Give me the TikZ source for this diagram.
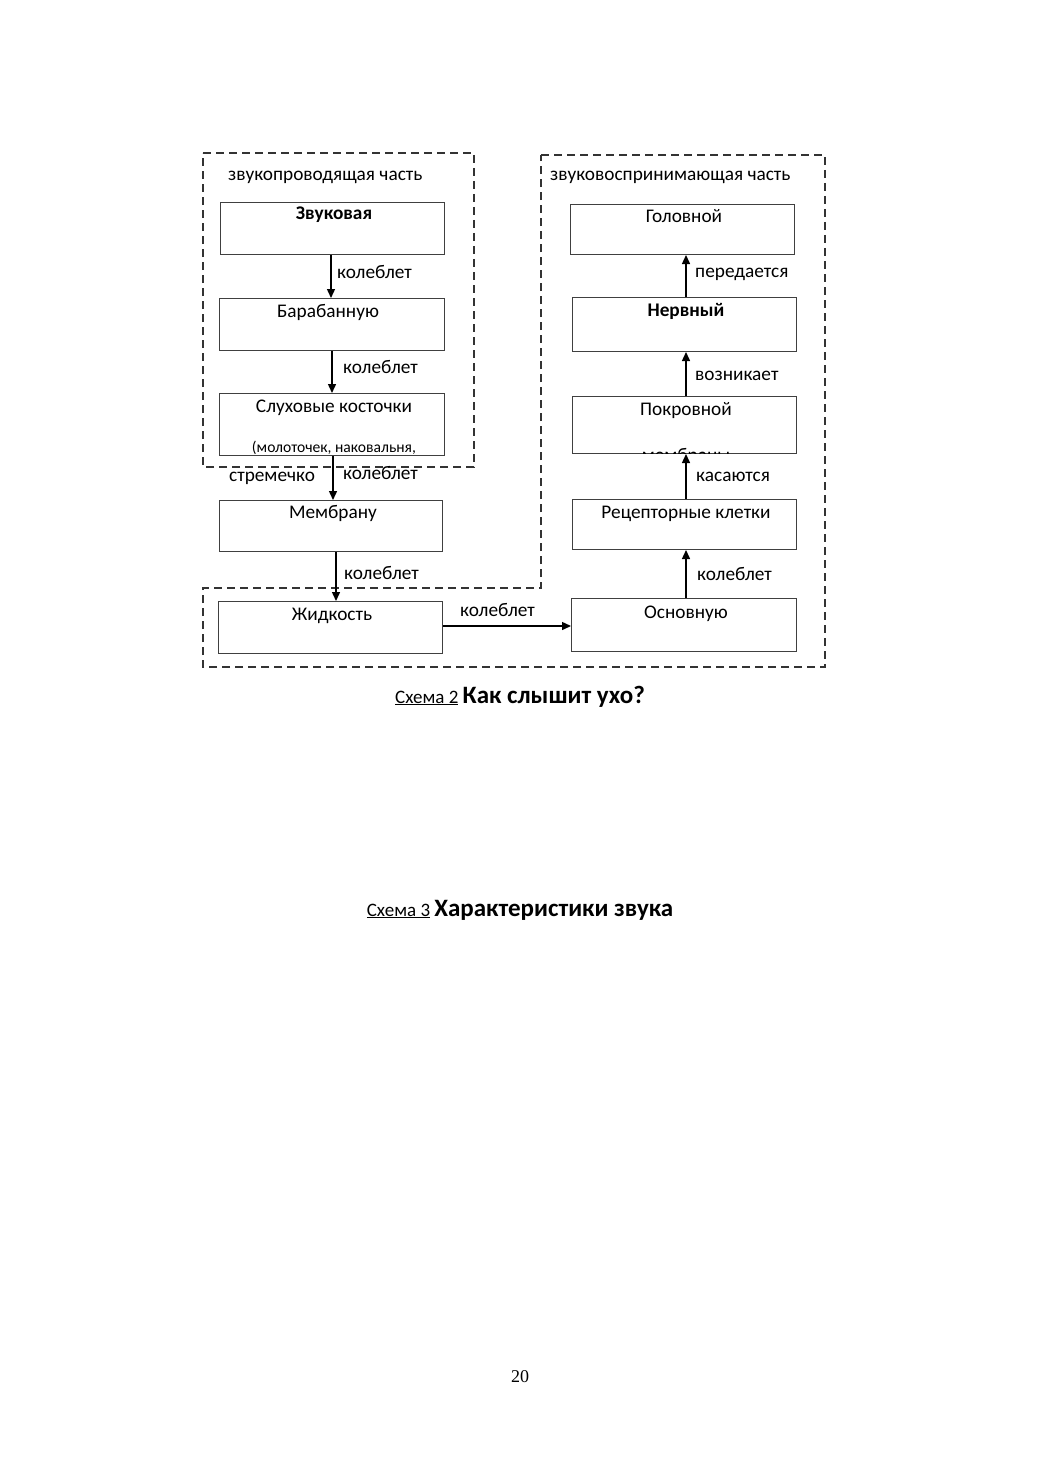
\documentclass[tikz,border=0pt]{standalone}
\usepackage{fontspec}
\setmainfont{Carlito}
\newfontfamily\tnr{Liberation Serif}
\usetikzlibrary{arrows.meta}
\tikzset{
  box/.style={draw=black!75, line width=1pt, inner sep=0pt, anchor=north west},
  txt/.style={anchor=base, inner sep=0pt, font=\fontsize{19.3}{22}\selectfont},
  lbl/.style={anchor=base west, inner sep=0pt, font=\fontsize{19.3}{22}\selectfont},
  small/.style={anchor=base, inner sep=0pt, font=\fontsize{15.6}{18}\selectfont},
  arr/.style={line width=1.4pt, -{Triangle[length=9pt,width=8pt]}},
  zone/.style={draw=black!80, line width=1.3pt, dash pattern=on 8pt off 5pt},
}
\begin{document}
\begin{tikzpicture}[x=1pt,y=-1pt]
\useasboundingbox (0,0) rectangle (1039,1471);
% dashed zones
\draw[zone] (203,153) -- (474,153) -- (474,467) -- (203,467) -- cycle;
\draw[zone] (541,155) -- (825,155) -- (825,667) -- (203,667) -- (203,588) -- (541,588) -- cycle;
\node[lbl] (lz1) at (228,181) {звукопроводящая часть};
\node[lbl] (lz2) at (550,181) {звуковоспринимающая часть};
% left boxes
\node[box, minimum width=224pt, minimum height=52pt] (zv) at (220,202) {};
\node[box, minimum width=225pt, minimum height=52pt] (bar) at (219,298) {};
\node[box, minimum width=225pt, minimum height=62pt] (sl) at (219,393) {};
\node[box, minimum width=223pt, minimum height=51pt] (mem) at (219,500) {};
\node[box, minimum width=224pt, minimum height=52pt] (zh) at (218,601) {};
% right boxes
\node[box, minimum width=224pt, minimum height=50pt] (gol) at (570,204) {};
\node[box, minimum width=224pt, minimum height=54pt] (ner) at (572,297) {};
\node[box, minimum width=224pt, minimum height=57pt] (pok) at (572,396) {};
\node[box, minimum width=224pt, minimum height=50pt] (rec) at (572,499) {};
\node[box, minimum width=225pt, minimum height=53pt] (osn) at (571,598) {};
% box texts
\node[txt, font=\fontsize{19.3}{22}\selectfont\bfseries] (tzv) at (334,220) {Звуковая};
\node[txt] (tbar) at (328,317) {Барабанную};
\node[txt] (tsl) at (334,412) {Слуховые косточки};
\node[small] (tsl2) at (334,452) {(молоточек, наковальня,};
\node[lbl] (tstr) at (229,481) {стремечко};
\node[txt] (tmem) at (333,518) {Мембрану};
\node[txt] (tzh) at (332,620) {Жидкость};
\node[txt] (tgol) at (684,223) {Головной};
\node[txt, font=\fontsize{19.3}{22}\selectfont\bfseries] (tner) at (686,316) {Нервный};
\node[txt] (tpok) at (686,415) {Покровной};
\begin{scope}
\clip (572,396) rectangle (796,453);
\node[txt] (tpok2) at (686,461) {мембраны};
\end{scope}
\node[txt] (trec) at (686,518) {Рецепторные клетки};
\node[txt] (tosn) at (686,618) {Основную};
% arrows
\draw[arr] (zv.south -| 331,0) -- (bar.north -| 331,0);
\draw[arr] (bar.south -| 332,0) -- (sl.north -| 332,0);
\draw[arr] (sl.south -| 333,0) -- (mem.north -| 333,0);
\draw[arr] (mem.south -| 336,0) -- (zh.north -| 336,0);
\draw[arr] (zh.east |- 0,626) -- (osn.west |- 0,626);
\draw[arr] (osn.north -| 686,0) -- (rec.south -| 686,0);
\draw[arr] (rec.north -| 686,0) -- (pok.south -| 686,0);
\draw[arr] (pok.north -| 686,0) -- (ner.south -| 686,0);
\draw[arr] (ner.north -| 686,0) -- (gol.south -| 686,0);
% arrow labels
\node[lbl] (l1) at (337,278) {колеблет};
\node[lbl] (l2) at (343,373) {колеблет};
\node[lbl] (l3) at (343,479) {колеблет};
\node[lbl] (l4) at (344,579) {колеблет};
\node[lbl] (l5) at (460,616) {колеблет};
\node[lbl] (l6) at (697,580) {колеблет};
\node[lbl] (l7) at (696,481) {касаются};
\node[lbl] (l8) at (695,380) {возникает};
\node[lbl] (l9) at (695,277) {передается};
% captions
\node[anchor=base, inner sep=0pt] (cap2) at (520,703) {\fontsize{19}{22}\selectfont\underline{Схема 2} \fontsize{25}{29}\selectfont\bfseries Как слышит ухо?};
\node[anchor=base, inner sep=0pt] (cap3) at (520,916) {\fontsize{19}{22}\selectfont\underline{Схема 3} \fontsize{25}{29}\selectfont\bfseries Характеристики звука};
\node[anchor=base, inner sep=0pt] (pg) at (520,1382) {\tnr\fontsize{18}{21}\selectfont 20};
\end{tikzpicture}
\end{document}
